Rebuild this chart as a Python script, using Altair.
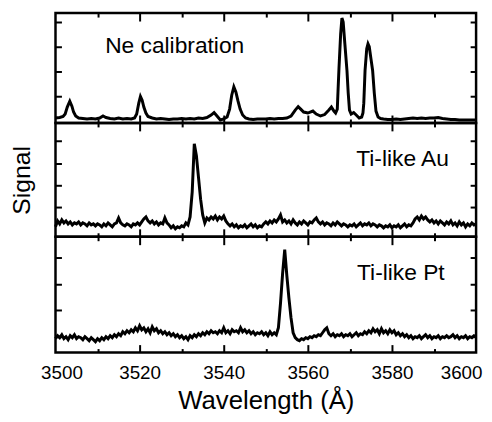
import altair as alt
import pandas as pd

FONT = "Liberation Sans"

# ---------------- data ----------------
major_ticks = [3520, 3540, 3560, 3580]
minor_ticks = [3510, 3530, 3550, 3570, 3590]
x_labels = [3500, 3520, 3540, 3560, 3580, 3600]

ne_wl = [3500, 3501, 3501.8, 3502.3, 3502.8, 3503.4, 3503.9, 3504.3, 3504.8, 3505.5,
         3506.5, 3507.5, 3508.5, 3509.5, 3510.5, 3511.3, 3512, 3513, 3514, 3515,
         3516, 3517, 3518, 3518.8, 3519.3, 3519.8, 3520.2, 3520.6, 3521, 3521.5,
         3522, 3523, 3524, 3525, 3526, 3527, 3528, 3529, 3530, 3531,
         3532, 3533, 3534, 3535, 3536, 3537, 3537.7, 3538.4, 3539.2, 3540,
         3540.8, 3541.4, 3541.9, 3542.4, 3542.9, 3543.4, 3543.9, 3544.5, 3545.2, 3546,
         3547, 3548, 3549, 3550, 3551, 3552, 3553, 3554, 3555, 3556,
         3557, 3557.7, 3558.3, 3559, 3560, 3561.2, 3562, 3563, 3564, 3565,
         3565.6, 3566.2, 3566.6, 3567.0, 3567.2, 3567.4, 3567.8, 3568.1, 3568.4, 3568.8,
         3569.3, 3569.6, 3569.9, 3570.3, 3570.9, 3571.5, 3572.2, 3572.8, 3573.1, 3573.3,
         3573.6, 3574.0, 3574.3, 3574.6, 3575.0, 3575.4, 3575.8, 3576.2, 3576.7, 3577.3,
         3578, 3579, 3580, 3581, 3582, 3583, 3584, 3585, 3586, 3587,
         3588, 3589, 3590, 3591, 3592, 3593, 3594, 3595, 3596, 3597,
         3598, 3599, 3600]
ne_sig = [5, 5.5, 6.5, 9, 16, 22, 17, 11, 7, 5,
          4.5, 4, 4.5, 4, 5, 7, 5.5, 4.5, 4, 5,
          4, 4.5, 4, 5, 9, 20, 26.7, 23, 16, 10,
          6.5, 5, 4, 4.5, 4, 3.5, 4, 4, 4.5, 4,
          4.5, 4, 5, 4.5, 5.5, 8, 10.5, 7, 3, 4,
          6, 14, 28, 36.5, 31, 22, 14, 8, 5, 4,
          3.5, 4, 4, 4, 4.5, 4, 4.5, 4.5, 5, 7,
          13, 16.5, 14, 11, 10, 12, 9, 7, 8.5, 13,
          16, 12, 10, 14, 35, 55, 90, 106, 102, 80,
          53, 30, 13, 9, 10.5, 8, 5, 6, 10, 20,
          53, 75, 80, 77, 65, 53, 30, 12, 6, 4.5,
          4, 3.5, 3.5, 4, 3.5, 4, 4.5, 5, 4.5, 5,
          4.5, 5, 5, 5.5, 4.5, 4, 3.5, 3.5, 3, 3,
          3, 3, 3]

grid_wl = [3500 + 0.5 * i for i in range(201)]  # sampling grid, 0.5 Å

au_sig = [10, 16, 13, 17, 14, 16, 13, 15, 12, 14,
          13, 15, 12, 14, 13, 11, 14, 12, 13, 11,
          13, 12, 10, 13, 11, 14, 12, 10, 13, 14,
          19, 14, 12, 11, 13, 12, 10, 13, 12, 14,
          12, 15, 18, 20, 16, 14, 16, 13, 15, 12,
          14, 13, 19, 14, 12, 9, 11, 8, 10, 9,
          11, 10, 14, 12, 20, 45, 94, 82, 60, 38,
          22, 14, 19, 17, 20, 18, 21, 17, 20, 18,
          21, 16, 13, 11, 13, 10, 12, 9, 11, 10,
          12, 9, 11, 13, 10, 12, 9, 11, 10, 13,
          15, 13, 16, 14, 17, 15, 18, 22, 15, 17,
          14, 16, 13, 17, 14, 12, 15, 13, 16, 14,
          12, 15, 14, 17, 19, 15, 13, 15, 12, 14,
          13, 11, 14, 12, 15, 13, 11, 13, 12, 10,
          12, 11, 13, 10, 12, 14, 11, 13, 12, 14,
          11, 13, 12, 10, 12, 11, 9, 11, 10, 12,
          9, 11, 10, 12, 9, 11, 13, 10, 12, 11,
          14, 18, 20, 17, 21, 18, 20, 17, 15, 17,
          14, 16, 13, 16, 14, 12, 15, 13, 16, 12,
          14, 11, 15, 12, 14, 10, 13, 11, 14, 12,
          13]

pt_sig = [14, 17, 15, 18, 14, 16, 13, 17, 15, 18,
          14, 16, 15, 13, 16, 14, 12, 15, 13, 11,
          14, 12, 15, 13, 16, 14, 17, 15, 18, 16,
          19, 17, 21, 19, 22, 20, 23, 21, 25, 22,
          27, 23, 25, 21, 24, 20, 26, 22, 24, 20,
          22, 19, 21, 18, 20, 17, 19, 16, 18, 15,
          17, 14, 16, 13, 17, 15, 18, 16, 19, 17,
          20, 18, 21, 19, 22, 20, 21, 19, 22, 20,
          25, 20, 22, 19, 23, 21, 22, 20, 25, 21,
          23, 20, 22, 19, 21, 18, 20, 19, 21, 18,
          20, 17, 21, 18, 20, 18, 25, 50, 80, 104,
          78, 55, 35, 20, 15, 13, 12, 14, 13, 15,
          14, 16, 15, 17, 16, 18, 17, 20, 23, 25,
          19, 17, 19, 16, 18, 17, 19, 16, 18, 17,
          19, 16, 18, 20, 17, 19, 18, 21, 19, 22,
          20, 24, 21, 23, 19, 24, 20, 22, 19, 23,
          20, 22, 18, 20, 17, 19, 16, 18, 15, 17,
          14, 16, 15, 17, 14, 16, 18, 15, 17, 14,
          16, 15, 17, 14, 16, 15, 17, 15, 16, 18,
          15, 17, 14, 16, 15, 17, 14, 16, 15, 17,
          16]

panel_names = ["Ne calibration", "Ti-like Au", "Ti-like Pt"]
name_wl = [3511.8, 3571.5, 3571.7]
name_sig = [71, 71, 73]
panel_heights = [111, 115, 117]
y_ticks = [[27, 52, 77, 102], [30, 52, 74, 97], [16, 43, 69, 96]]

WIDTH = 425


def panel(i, wl, sig, bottom=False, ytitle=None):
    h = panel_heights[i]
    df = pd.DataFrame({"wl": wl, "sig": sig})
    lab = pd.DataFrame({"wl": [name_wl[i]], "sig": [name_sig[i]], "t": [panel_names[i]]})
    xs = alt.Scale(domain=[3500, 3600], nice=False, zero=False)
    ys = alt.Scale(domain=[0, h], nice=False, zero=False)

    def xax(orient, vals, size):
        return alt.Axis(orient=orient, values=vals, tickSize=size, offset=-size,
                        domain=False, labels=False, grid=False, title=None,
                        tickColor="black", tickWidth=2)

    def yax(orient, size, title=None):
        kw = dict(orient=orient, values=y_ticks[i], tickSize=size, offset=-size,
                  domain=False, labels=False, grid=False,
                  tickColor="black", tickWidth=2)
        if title:
            kw.update(title=title, titleFont=FONT, titleFontSize=25,
                      titleFontWeight="normal", titleColor="black", titlePadding=20)
        else:
            kw.update(title=None)
        return alt.Axis(**kw)

    base = alt.Chart(df)
    layers = [
        base.mark_line(opacity=0).encode(
            x=alt.X("wl:Q", scale=xs, axis=xax("top", major_ticks, 8)),
            y=alt.Y("sig:Q", scale=ys, axis=yax("right", 6))),
        base.mark_line(opacity=0).encode(
            x=alt.X("wl:Q", scale=xs, axis=xax("bottom", minor_ticks, 4)),
            y=alt.Y("sig:Q", scale=ys, axis=None)),
        base.mark_line(opacity=0).encode(
            x=alt.X("wl:Q", scale=xs, axis=xax("top", minor_ticks, 4)),
            y=alt.Y("sig:Q", scale=ys, axis=None)),
    ]
    if bottom:
        layers.append(base.mark_line(opacity=0).encode(
            x=alt.X("wl:Q", scale=xs, axis=alt.Axis(
                orient="bottom", values=x_labels, format="d", ticks=False, tickSize=0,
                domain=False, grid=False, labelFont=FONT, labelFontSize=19,
                labelColor="black", labelPadding=11, labelFlush=False,
                labelAlign={"condition": {"test": "datum.value == 3600", "value": "right"},
                            "value": "center"},
                labelOffset={"condition": {"test": "datum.value == 3500 || datum.value == 3600",
                                           "value": 6}, "value": 0},
                title="Wavelength (Å)", titleFont=FONT,
                titleFontSize=26, titleFontWeight="normal", titleColor="black",
                titlePadding=6)),
            y=alt.Y("sig:Q", scale=ys, axis=None)))
    layers.append(alt.Chart(lab).mark_text(
        align="left", baseline="alphabetic", font=FONT, fontSize=23, color="black").encode(
            x=alt.X("wl:Q", scale=xs, axis=None),
            y=alt.Y("sig:Q", scale=ys, axis=None),
            text="t:N"))
    layers.append(base.mark_line(color="black", strokeWidth=3.0).encode(
        x=alt.X("wl:Q", scale=xs, axis=xax("bottom", major_ticks, 8)),
        y=alt.Y("sig:Q", scale=ys, axis=yax("left", 6, ytitle))))
    return alt.layer(*layers).resolve_scale(x="independent", y="independent").properties(
        width=WIDTH, height=h)


p1 = panel(0, ne_wl, ne_sig)
p2 = panel(1, grid_wl, au_sig, ytitle="Signal")
p3 = panel(2, grid_wl, pt_sig, bottom=True)

chart = alt.vconcat(p1, p2, p3, spacing=0, bounds="flush").properties(
    padding={"left": 0, "top": 0, "right": 0, "bottom": 0},
    background="white",
).configure_view(stroke="black", strokeWidth=2.5)

chart.save("out.html", embed_options={"renderer": "svg", "actions": False})
